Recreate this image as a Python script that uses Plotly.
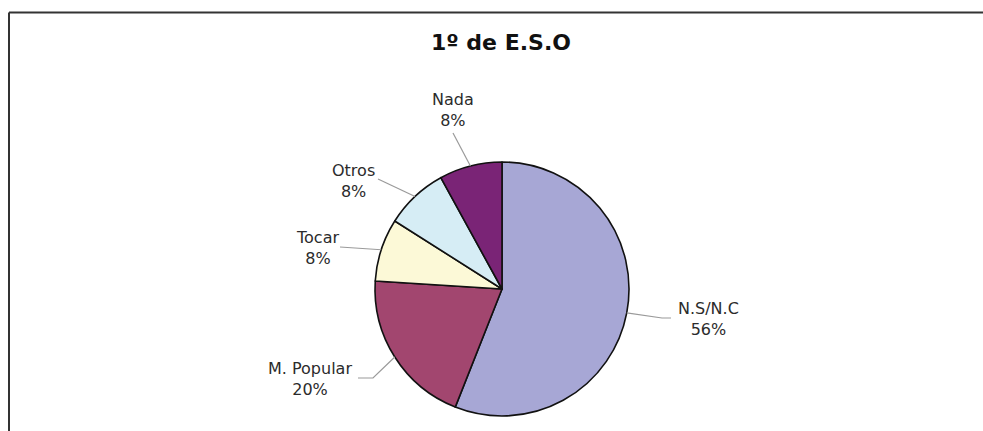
import plotly.graph_objects as go

# Survey answers for 1º de E.S.O (share of students, %)
categories = ["N.S/N.C", "M. Popular", "Tocar", "Otros", "Nada"]
percentages = [56, 20, 8, 8, 8]
colors = ["#A7A7D5", "#A2466F", "#FCF9D7", "#D6EDF5", "#7A2476"]
title_text = "1º de E.S.O"

W, H = 983, 431


def px(x):
    return x / W


def py(y):
    return 1 - y / H


# pie placement in pixels
cx, cy, r = 502, 289, 127

# label block centres and leader-line elbows, in pixels
label_pos = {
    "N.S/N.C": (708, 319),
    "M. Popular": (310, 379),
    "Tocar": (317, 248),
    "Otros": (353, 181),
    "Nada": (453, 110),
}
leader_start = {
    "N.S/N.C": [(671, 318), (662, 318)],
    "M. Popular": [(358, 378), (373, 378)],
    "Tocar": [(340, 247)],
    "Otros": [(378, 179)],
    "Nada": [(453, 133)],
}

fig = go.Figure(
    go.Pie(
        labels=categories,
        values=percentages,
        sort=False,
        direction="clockwise",
        rotation=0,
        textinfo="none",
        hoverinfo="label+percent",
        marker=dict(colors=colors, line=dict(color="#111111", width=1.6)),
        domain=dict(x=[px(cx - r), px(cx + r)], y=[py(cy + r), py(cy - r)]),
        showlegend=False,
    )
)

import math

total = sum(percentages)
shapes = []
annotations = []
cum = 0.0
for cat, val in zip(categories, percentages):
    mid = (cum + val / 2) / total * 2 * math.pi
    cum += val
    tip = (cx + r * math.sin(mid), cy - r * math.cos(mid))
    pts = leader_start[cat] + [tip]
    path = "M " + " L ".join(f"{px(x):.5f},{py(y):.5f}" for x, y in pts)
    shapes.append(dict(type="path", xref="paper", yref="paper", path=path,
                       line=dict(color="#9a9a9a", width=1.2)))
    lx, ly = label_pos[cat]
    annotations.append(dict(
        text=f"{cat}<br>{val}%", x=px(lx), y=py(ly), xref="paper", yref="paper",
        xanchor="center", yanchor="middle", showarrow=False, align="center",
        font=dict(family="DejaVu Sans", size=16, color="#2b2b2b"),
    ))

annotations.append(dict(
    text=f"<b>{title_text}</b>", x=px(501), y=py(42), xref="paper", yref="paper",
    xanchor="center", yanchor="middle", showarrow=False,
    font=dict(family="DejaVu Sans", size=22, color="#111111"),
))

# frame: top and left edges
shapes.append(dict(type="line", xref="paper", yref="paper",
                   x0=px(9), y0=py(12.5), x1=1.02, y1=py(12.5),
                   line=dict(color="#333333", width=2)))
shapes.append(dict(type="line", xref="paper", yref="paper",
                   x0=px(9), y0=py(12.5), x1=px(9), y1=-0.05,
                   line=dict(color="#333333", width=2)))

fig.update_layout(
    width=W, height=H,
    margin=dict(l=0, r=0, t=0, b=0),
    paper_bgcolor="white", plot_bgcolor="white",
    shapes=shapes, annotations=annotations,
)

fig.write_html("out.html")
